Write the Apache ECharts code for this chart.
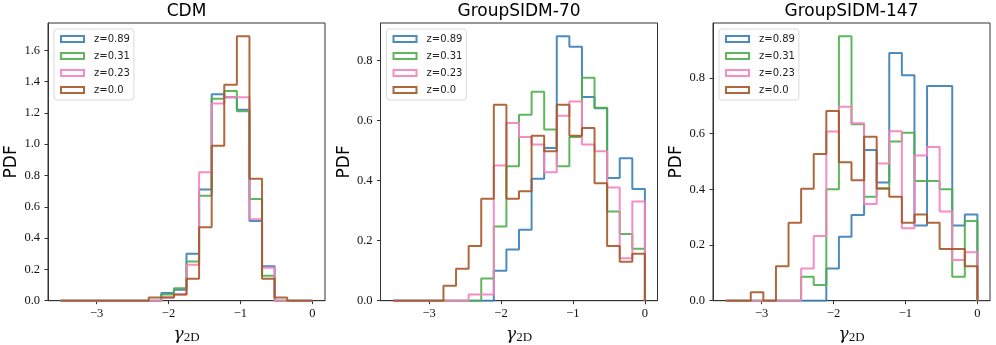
<!DOCTYPE html>
<html>
<head>
<meta charset="utf-8">
<title>gamma_2D PDF</title>
<script src="https://cdn.jsdelivr.net/npm/echarts@6.0.0/dist/echarts.min.js"></script>
<style>
  html, body { margin: 0; padding: 0; background: #fff; }
  #chart { width: 996px; height: 345px; }
</style>
</head>
<body>
<div id="chart"></div>
<script>
// 20 histogram bins between -3.5 and 0
var binEdges = [-3.5, -3.325, -3.15, -2.975, -2.8, -2.625, -2.45, -2.275, -2.1, -1.925, -1.75,
                -1.575, -1.4, -1.225, -1.05, -0.875, -0.7, -0.525, -0.35, -0.175, 0];
var redshifts = ['z=0.89', 'z=0.31', 'z=0.23', 'z=0.0'];
var colors = ['#377eb8', '#4daf4a', '#f781bf', '#a65628'];
var panelTitles = ['CDM', 'GroupSIDM-70', 'GroupSIDM-147'];
var xTicks = [-3, -2, -1, 0];
var yTicks = [[0, 0.2, 0.4, 0.6, 0.8, 1.0, 1.2, 1.4, 1.6],
              [0, 0.2, 0.4, 0.6, 0.8],
              [0, 0.2, 0.4, 0.6, 0.8]];

// PDF value of each bin
var cdm089 = [0, 0, 0, 0, 0, 0, 0, 0, 0.05, 0.07, 0.30, 0.71, 1.32, 1.30, 1.22, 0.51, 0.22, 0, 0, 0];
var cdm031 = [0, 0, 0, 0, 0, 0, 0, 0, 0.04, 0.08, 0.25, 0.67, 1.29, 1.34, 1.21, 0.65, 0.16, 0, 0, 0];
var cdm023 = [0, 0, 0, 0, 0, 0, 0, 0, 0.02, 0.04, 0.23, 0.82, 1.26, 1.30, 1.30, 0.52, 0.21, 0, 0, 0];
var cdm000 = [0, 0, 0, 0, 0, 0, 0, 0.02, 0.02, 0.04, 0.14, 0.47, 0.99, 1.38, 1.69, 0.78, 0.14, 0.02, 0, 0];

var g70z089 = [0, 0, 0, 0, 0, 0, 0, 0, 0.10, 0.17, 0.236, 0.406, 0.508, 0.88, 0.845, 0.678, 0.64, 0.408, 0.474, 0.372];
var g70z031 = [0, 0, 0, 0, 0, 0, 0, 0.074, 0.247, 0.447, 0.619, 0.695, 0.57, 0.447, 0.545, 0.742, 0.642, 0.297, 0.222, 0.173];
var g70z023 = [0, 0, 0, 0, 0, 0, 0.021, 0.021, 0.45, 0.591, 0.545, 0.52, 0.427, 0.615, 0.663, 0.52, 0.497, 0.377, 0.141, 0.33];
var g70z000 = [0, 0, 0, 0, 0.05, 0.106, 0.182, 0.339, 0.652, 0.339, 0.364, 0.549, 0.497, 0.652, 0.549, 0.575, 0.391, 0.182, 0.13, 0.156];

var g147z089 = [0, 0, 0, 0, 0, 0, 0, 0, 0.116, 0.23, 0.308, 0.541, 0.425, 0.89, 0.81, 0.27, 0.771, 0.771, 0.27, 0.31];
var g147z031 = [0, 0, 0, 0, 0, 0, 0.086, 0.056, 0.40, 0.95, 0.634, 0.373, 0.403, 0.572, 0.603, 0.43, 0.43, 0.40, 0.086, 0.286];
var g147z023 = [0, 0, 0, 0, 0, 0, 0.116, 0.232, 0.608, 0.697, 0.637, 0.347, 0.493, 0.609, 0.26, 0.522, 0.552, 0.32, 0.146, 0.174];
var g147z000 = [0, 0, 0.03, 0, 0.124, 0.28, 0.402, 0.527, 0.681, 0.497, 0.433, 0.589, 0.403, 0.373, 0.28, 0.31, 0.28, 0.186, 0.186, 0.124];

var panels = [
    [cdm089, cdm031, cdm023, cdm000],
    [g70z089, g70z031, g70z023, g70z000],
    [g147z089, g147z031, g147z023, g147z000]
];

var gridLeft = [48, 380.5, 713];
var gridWidth = 277;

// outline of a step histogram: up at the first edge, down at the last
function stepData(values) {
    var pts = [[binEdges[0], 0]];
    for (var i = 0; i < values.length; i++) {
        pts.push([binEdges[i], values[i]]);
    }
    pts.push([binEdges[binEdges.length - 1], 0]);
    return pts;
}

var axisColor = '#333';
var tickFont = {fontFamily: 'Liberation Serif', fontSize: 12.5, color: '#111'};

var option = {
    animation: false,
    title: [],
    legend: [],
    grid: [],
    xAxis: [],
    yAxis: [],
    series: []
};

panels.forEach(function (sets, p) {
    var peak = 0;
    sets.forEach(function (s) { peak = Math.max(peak, Math.max.apply(null, s)); });

    option.title.push({
        text: panelTitles[p],
        left: gridLeft[p] + gridWidth / 2,
        top: 3,
        padding: 0,
        textAlign: 'center',
        textStyle: {fontFamily: 'DejaVu Sans', fontSize: 17, fontWeight: 'normal', color: '#000'}
    });

    option.grid.push({
        left: gridLeft[p],
        top: 23,
        width: gridWidth,
        height: 277.7,
        outerBoundsMode: 'none',
        containLabel: false,
        show: true,
        borderColor: axisColor,
        borderWidth: 1,
        backgroundColor: 'transparent'
    });

    option.xAxis.push({
        type: 'value',
        gridIndex: p,
        min: -3.675,
        max: 0.175,
        name: '{g|γ}{s|2D}',
        nameLocation: 'middle',
        nameGap: 20,
        nameTextStyle: {
            rich: {
                g: {fontFamily: 'DejaVu Serif', fontStyle: 'italic', fontSize: 17, color: '#111'},
                s: {fontFamily: 'Liberation Serif', fontSize: 13, color: '#111', padding: [6, 0, 0, 0]}
            }
        },
        axisLine: {show: true, onZero: false, lineStyle: {color: axisColor, width: 1}},
        axisTick: {show: true, inside: false, length: 3.5, customValues: xTicks, lineStyle: {color: axisColor}},
        axisLabel: {
            customValues: xTicks,
            margin: 7,
            fontFamily: tickFont.fontFamily,
            fontSize: tickFont.fontSize,
            color: tickFont.color,
            formatter: function (v) { return v < 0 ? '\u2212' + Math.abs(v) : String(v); }
        },
        splitLine: {show: false}
    });

    option.yAxis.push({
        type: 'value',
        gridIndex: p,
        position: 'left',
        min: 0,
        max: peak * 1.05,
        interval: 0.2,
        name: 'PDF',
        nameLocation: 'middle',
        nameGap: 26,
        nameTextStyle: {fontFamily: 'DejaVu Sans', fontSize: 17, color: '#000'},
        axisLine: {show: true, onZero: false, lineStyle: {color: axisColor, width: 1}},
        axisTick: {show: true, inside: false, length: 3.5, customValues: yTicks[p], lineStyle: {color: axisColor}},
        axisLabel: {
            customValues: yTicks[p],
            margin: 8,
            fontFamily: tickFont.fontFamily,
            fontSize: tickFont.fontSize,
            color: tickFont.color,
            formatter: function (v) { return v.toFixed(1); }
        },
        splitLine: {show: false}
    });

    option.legend.push({
        orient: 'vertical',
        left: gridLeft[p] + 6,
        top: 29,
        padding: [5, 4, 5, 6],
        itemWidth: 23,
        itemHeight: 6,
        itemGap: 7,
        icon: 'rect',
        selectedMode: false,
        backgroundColor: 'rgba(255,255,255,0.8)',
        borderColor: '#d9d9d9',
        borderWidth: 1,
        borderRadius: 3,
        textStyle: {fontFamily: 'DejaVu Sans', fontSize: 10, lineHeight: 10, color: '#222', padding: [0, 0, 0, 5]},
        data: redshifts.map(function (name, i) {
            return {name: name, itemStyle: {color: '#fff', borderColor: colors[i], borderWidth: 2, opacity: 0.9}};
        })
    });

    sets.forEach(function (values, i) {
        option.series.push({
            name: redshifts[i],
            type: 'line',
            xAxisIndex: p,
            yAxisIndex: p,
            step: 'end',
            data: stepData(values),
            showSymbol: false,
            symbol: 'none',
            silent: true,
            itemStyle: {color: colors[i]},
            lineStyle: {color: colors[i], width: 2, opacity: 0.9}
        });
    });
});

var chart = echarts.init(document.getElementById('chart'));
chart.setOption(option);
</script>
</body>
</html>
